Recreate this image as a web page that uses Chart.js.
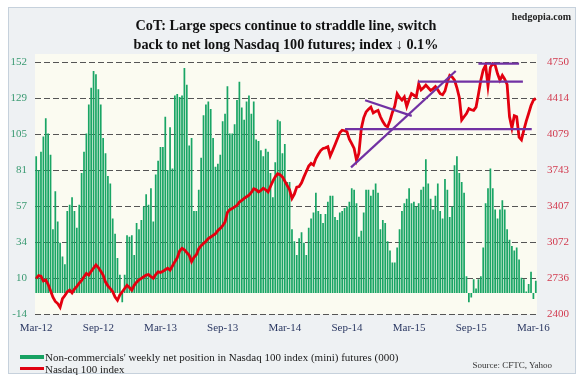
<!DOCTYPE html>
<html><head><meta charset="utf-8">
<script src="https://cdn.jsdelivr.net/npm/chart.js@4.4.1/dist/chart.umd.min.js"></script>
<style>
html,body{margin:0;padding:0;background:#fff;}
#wrap{position:relative;width:580px;height:376px;overflow:hidden;background:#fff;font-family:"Liberation Serif","Times New Roman",serif;}
#frame{position:absolute;left:8px;top:7px;width:568px;height:367px;border:1px solid #c6d1dc;background:#eef1f3;box-sizing:border-box;}
#c{position:absolute;left:0;top:0;}
#title{position:absolute;left:0;width:572px;top:16px;text-align:center;font-weight:bold;font-size:14.2px;line-height:18.5px;color:#111;}
#brand{position:absolute;right:9px;top:11px;font-weight:bold;font-size:10px;line-height:12px;color:#222;}
.lg{position:absolute;left:45px;font-size:11px;line-height:12px;color:#1a1a1a;white-space:nowrap;}
.sw{position:absolute;left:20px;width:24px;}
#src{position:absolute;right:28px;top:360px;font-size:9px;line-height:11px;color:#333;}
</style></head>
<body>
<div id="wrap">
  <div id="frame"></div>
  <canvas id="c" width="580" height="376"></canvas>
  <div id="title">CoT: Large specs continue to straddle line, switch<br>back to net long Nasdaq 100 futures; index ↓ 0.1%</div>
  <div id="brand">hedgopia.com</div>
  <div class="sw" style="top:355px;height:4px;background:#17a262;"></div>
  <div class="lg" style="top:351px;">Non-commercials' weekly net position in Nasdaq 100 index (mini) futures (000)</div>
  <div class="sw" style="top:367px;height:3px;background:#e00010;"></div>
  <div class="lg" style="top:362.5px;">Nasdaq 100 index</div>
  <div id="src">Source: CFTC, Yahoo</div>
</div>
<script>
// Weekly net position of non-commercials (000 contracts), Mar-2012 .. Mar-2016
const netPosition = [90,81,93,103,115,105,91,42,67,47,
33,24,19,54,58,63,54,43,58,79,
93,105,124,135,146,144,134,124,102,92,
77,72,49,39,23,12,-6,12,38,37,
38,25,46,42,48,57,65,58,69,47,
78,87,96,96,116,81,109,82,130,131,
129,130,148,137,97,102,54,54,68,89,
117,124,126,121,102,83,85,91,113,118,
136,105,105,111,127,139,122,114,126,130,
118,126,101,100,94,90,95,93,79,63,
86,114,113,92,98,73,73,42,34,25,
36,40,33,25,43,49,53,66,54,52,
46,52,60,64,64,50,48,53,54,56,
57,60,69,68,59,37,41,53,68,68,
64,68,72,66,42,48,46,34,28,20,
20,30,42,54,59,62,69,59,60,57,
59,68,70,88,72,62,55,64,72,54,
49,75,68,50,57,84,90,79,73,66,
11,-6,-3,9,3,9,11,30,59,69,
82,69,55,49,55,61,55,42,35,31,
28,30,22,10,9,1,6,14,-4,8];

// Nasdaq 100 index, weekly
const nasdaq100 = [2735,2760,2755,2710,2720,2680,2620,2560,2520,2500,
2465,2545,2575,2610,2625,2600,2635,2660,2690,2715,
2750,2780,2765,2800,2830,2860,2835,2800,2765,2700,
2665,2640,2610,2560,2530,2580,2610,2640,2670,2650,
2625,2670,2700,2720,2735,2750,2765,2770,2750,2735,
2770,2795,2790,2800,2815,2830,2812,2850,2890,2925,
2990,3015,3000,2975,2950,2890,2930,2955,3010,3040,
3060,3080,3105,3120,3135,3150,3180,3200,3225,3260,
3350,3375,3385,3400,3415,3445,3460,3480,3495,3510,
3535,3570,3560,3540,3555,3575,3560,3540,3590,3640,
3680,3710,3700,3680,3640,3600,3560,3480,3520,3585,
3590,3625,3680,3730,3780,3805,3790,3850,3890,3925,
3945,3950,3960,3875,3925,3980,4035,4090,4115,4110,
4100,4030,3990,3945,3835,3900,4130,4230,4285,4310,
4330,4275,4290,4300,4240,4195,4160,4145,4205,4280,
4340,4455,4420,4395,4425,4335,4400,4455,4440,4425,
4545,4490,4510,4535,4510,4485,4500,4520,4490,4455,
4445,4480,4565,4625,4610,4580,4510,4420,4210,4240,
4270,4315,4305,4300,4330,4450,4580,4675,4720,4525,
4700,4735,4720,4640,4580,4625,4590,4540,4240,4135,
4250,4240,4050,4025,4115,4200,4270,4345,4395,4410];

// x-axis tick labels and the week they sit on
const xTickLabels = ['Mar-12','Sep-12','Mar-13','Sep-13','Mar-14','Sep-14','Mar-15','Sep-15','Mar-16'];
const xTickWeeks  = [0,26,52,78,104,130,156,182,208];
const leftTickLabels  = ['-14','10','34','57','81','105','129','152'];
const rightTickLabels = ['2400','2736','3072','3407','3743','4079','4414','4750'];

// hand-drawn trend lines (week index, index level)
const supportLine    = [[129.2,4124],[207.3,4124]];
const midResistance  = [[159.7,4568],[203.6,4568]];
const topResistance  = [[185,4735],[202,4735]];
const risingTrend    = [[131.7,3768],[175.5,4666]];
const fallingTrend   = [[137.6,4394],[157.1,4248]];

const weeks = netPosition.map((_, i) => i);
const toXY = arr => arr.map(p => ({x: p[0], y: p[1]}));
const evenTicks = labels => {
  const lo = Number(labels[0]), hi = Number(labels[labels.length-1]);
  return labels.map((_, i) => ({value: lo + i * (hi - lo) / (labels.length - 1)}));
};

const purple = '#7131a3';
const trendDs = (d) => ({type:'line', data: toXY(d), xAxisID:'x', yAxisID:'y1', borderColor: purple,
  borderWidth: 2.2, pointRadius: 0, fill:false, order: 1});

const bgPlugin = {
  id: 'plotbg',
  beforeDraw(chart) {
    const {ctx, chartArea: a} = chart;
    ctx.save();
    ctx.fillStyle = '#fbfbf1';
    ctx.fillRect(a.left, a.top - 8, a.right - a.left, a.bottom - a.top + 8);
    ctx.restore();
  }
};

new Chart(document.getElementById('c'), {
  type: 'bar',
  data: {
    datasets: [
      {type:'bar', label:'Non-commercials', data: weeks.map(i => ({x:i, y:netPosition[i]})),
       xAxisID:'x', yAxisID:'y', backgroundColor:'#19a565', borderWidth:0,
       barPercentage:0.72, categoryPercentage:1, order:3},
      {type:'line', label:'Nasdaq 100 index', data: weeks.map(i => ({x:i, y:nasdaq100[i]})),
       xAxisID:'x', yAxisID:'y1', borderColor:'#e3000f', borderWidth:2.8, pointRadius:0,
       tension:0, fill:false, order:2},
      trendDs(supportLine), trendDs(midResistance), trendDs(topResistance),
      trendDs(risingTrend), trendDs(fallingTrend)
    ]
  },
  options: {
    responsive:false, animation:false,
    layout:{padding:{top:62, left:0, right:0, bottom:0}},
    plugins:{legend:{display:false}, tooltip:{enabled:false}, title:{display:false}},
    scales:{
      x:{type:'linear', min:-0.5, max:netPosition.length-0.5, offset:false,
         grid:{display:false, drawTicks:false}, border:{display:false},
         afterBuildTicks: ax => { ax.ticks = xTickWeeks.map(v => ({value:v})); },
         afterFit: ax => { ax.height = 61.7; },
         ticks:{autoSkip:false, maxRotation:0, minRotation:0, padding:7, color:'#2c3963',
                font:{family:'"Liberation Serif", serif', size:11},
                callback:(v,i) => xTickLabels[i]}},
      y:{type:'linear', position:'left', min:Number(leftTickLabels[0]), max:Number(leftTickLabels[leftTickLabels.length-1]),
         afterBuildTicks: ax => { ax.ticks = evenTicks(leftTickLabels); },
         afterFit: ax => { ax.width = 35; },
         grid:{color:'#555555', lineWidth:1, drawTicks:false},
         border:{display:false, dash:[6,3]},
         ticks:{padding:8, color:'#3a9a72', font:{family:'"Liberation Serif", serif', size:11},
                callback:(v,i) => leftTickLabels[i]}},
      y1:{type:'linear', position:'right', min:Number(rightTickLabels[0]), max:Number(rightTickLabels[rightTickLabels.length-1]),
         afterBuildTicks: ax => { ax.ticks = evenTicks(rightTickLabels); },
         afterFit: ax => { ax.width = 43; },
         grid:{display:false, drawTicks:false}, border:{display:false},
         ticks:{padding:10, color:'#d23a4e', font:{family:'"Liberation Serif", serif', size:11},
                callback:(v,i) => rightTickLabels[i]}}
    }
  },
  plugins:[bgPlugin]
});
</script>
</body></html>
